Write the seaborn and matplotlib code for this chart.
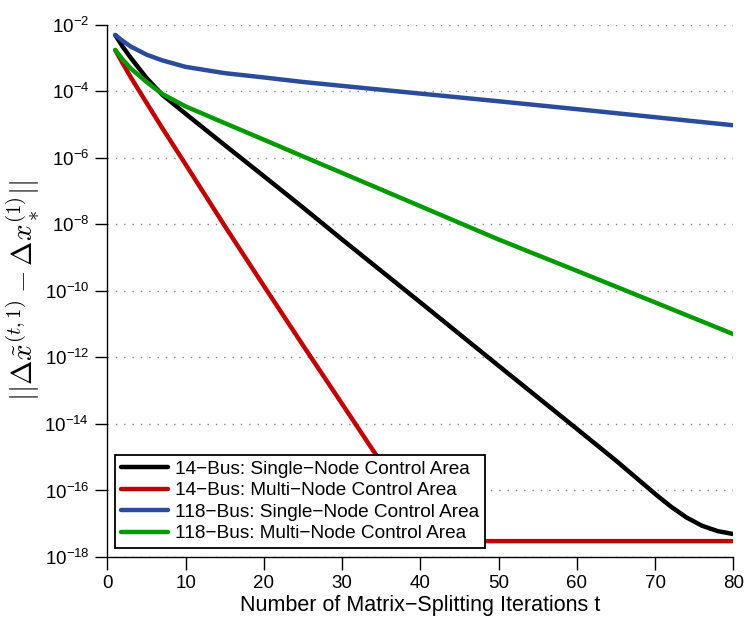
import numpy as np
import pandas as pd
import matplotlib
matplotlib.use("Agg")
import matplotlib.pyplot as plt
import seaborn as sns

# values (log-scale y)
t_black = [1, 2, 3, 5, 7, 10, 15, 20, 25, 30, 40, 50, 60, 65, 70, 72, 74, 76, 78, 80]
err_black = [4.9e-3, 2.1e-3, 1.0e-3, 2.5e-4, 7.9e-5, 2.1e-5, 2.4e-6, 2.8e-7, 3.2e-8, 3.5e-9,
             4.5e-11, 5.6e-13, 7.1e-15, 7.9e-16, 7.9e-17, 3.3e-17, 1.55e-17, 8.7e-18, 6.0e-18, 4.9e-18]

t_red = [1, 2, 3, 5, 7, 10, 15, 20, 25, 30, 35, 40, 42, 50, 60, 70, 80]
err_red = [1.74e-3, 6.6e-4, 2.6e-4, 4.5e-5, 7.9e-6, 6.3e-7, 8.9e-9, 1.4e-10, 2.3e-12, 4.0e-14,
           6.8e-16, 1.1e-17, 3.0e-18, 3.0e-18, 3.0e-18, 3.0e-18, 3.0e-18]

t_blue = [1, 2, 3, 5, 7, 10, 15, 20, 25, 30, 40, 50, 60, 70, 80]
err_blue = [4.9e-3, 3.2e-3, 2.2e-3, 1.26e-3, 8.5e-4, 5.4e-4, 3.5e-4, 2.6e-4, 1.9e-4, 1.45e-4,
            8.5e-5, 5.0e-5, 2.9e-5, 1.66e-5, 9.5e-6]

t_green = [1, 2, 3, 5, 7, 10, 15, 20, 25, 30, 40, 50, 60, 70, 80]
err_green = [1.74e-3, 8.7e-4, 4.8e-4, 1.9e-4, 8.3e-5, 3.5e-5, 1.1e-5, 3.5e-6, 1.1e-6, 3.5e-7,
             3.5e-8, 3.5e-9, 4.0e-10, 4.5e-11, 5.0e-12]

labels = ["14\u2212Bus: Single\u2212Node Control Area",
          "14\u2212Bus: Multi\u2212Node Control Area",
          "118\u2212Bus: Single\u2212Node Control Area",
          "118\u2212Bus: Multi\u2212Node Control Area"]
colors = ["#000000", "#c00000", "#2b4c9b", "#009a00"]

y_ticks = [1e-18, 1e-16, 1e-14, 1e-12, 1e-10, 1e-8, 1e-6, 1e-4, 1e-2]
y_ticklabels = [r"$\mathregular{10^{-%d}}$" % k for k in [18, 16, 14, 12, 10, 8, 6, 4, 2]]
x_ticks = [0, 10, 20, 30, 40, 50, 60, 70, 80]


def main():
    sns.set_theme(style="white")
    plt.rcParams["font.family"] = ["Liberation Sans", "DejaVu Sans"]
    plt.rcParams["mathtext.fontset"] = "cm"
    plt.rcParams["text.color"] = "black"
    plt.rcParams["axes.labelcolor"] = "black"
    plt.rcParams["xtick.color"] = "black"
    plt.rcParams["ytick.color"] = "black"

    frames = []
    for lab, t, e in zip(labels, [t_black, t_red, t_blue, t_green],
                         [err_black, err_red, err_blue, err_green]):
        frames.append(pd.DataFrame({"t": t, "err": e, "series": lab}))
    df = pd.concat(frames, ignore_index=True)

    fig = plt.figure(figsize=(7.46, 6.18), dpi=100)
    ax = fig.add_axes([0.144, 0.0987, 0.839, 0.8613])

    sns.lineplot(data=df, x="t", y="err", hue="series", hue_order=labels,
                 palette=dict(zip(labels, colors)), linewidth=3.2, ax=ax,
                 estimator=None, sort=False)

    ax.set_yscale("log")
    ax.set_xlim(0, 80)
    ax.set_ylim(1e-18, 1e-2)
    ax.set_yticks(y_ticks)
    ax.set_yticklabels(y_ticklabels)
    ax.yaxis.set_minor_locator(matplotlib.ticker.NullLocator())
    ax.set_xticks(x_ticks)

    ax.tick_params(axis="both", direction="out", length=9, width=1, color="black",
                   labelcolor="black", labelsize=13.5, pad=4, left=True, bottom=True)
    ax.grid(axis="y", which="major", linestyle=(0, (1, 5)), color="#888888", linewidth=1)
    ax.grid(axis="x", visible=False)

    for side in ["top", "right"]:
        ax.spines[side].set_visible(False)
    for side in ["left", "bottom"]:
        ax.spines[side].set_color("black")
        ax.spines[side].set_linewidth(1)

    ax.set_xlabel("Number of Matrix\u2212Splitting Iterations t", fontsize=15.5,
                  labelpad=2, color="black")
    ax.set_ylabel(r"$||\Delta\tilde{x}^{(t,1)} - \Delta x_*^{(1)}||$", fontsize=21,
                  labelpad=2, color="black")

    leg = ax.legend(loc="lower left", bbox_to_anchor=(0.012, 0.017), fontsize=13.7,
                    frameon=True, fancybox=False, framealpha=1, edgecolor="black",
                    handlelength=2.5, handletextpad=0.35, labelspacing=0.22,
                    borderpad=0.3, borderaxespad=0)
    leg.get_frame().set_linewidth(1.3)
    for h in leg.get_lines():
        h.set_linewidth(3.2)
    for txt in leg.get_texts():
        txt.set_color("black")

    fig.savefig("out.png", dpi=100)


if __name__ == "__main__":
    main()
